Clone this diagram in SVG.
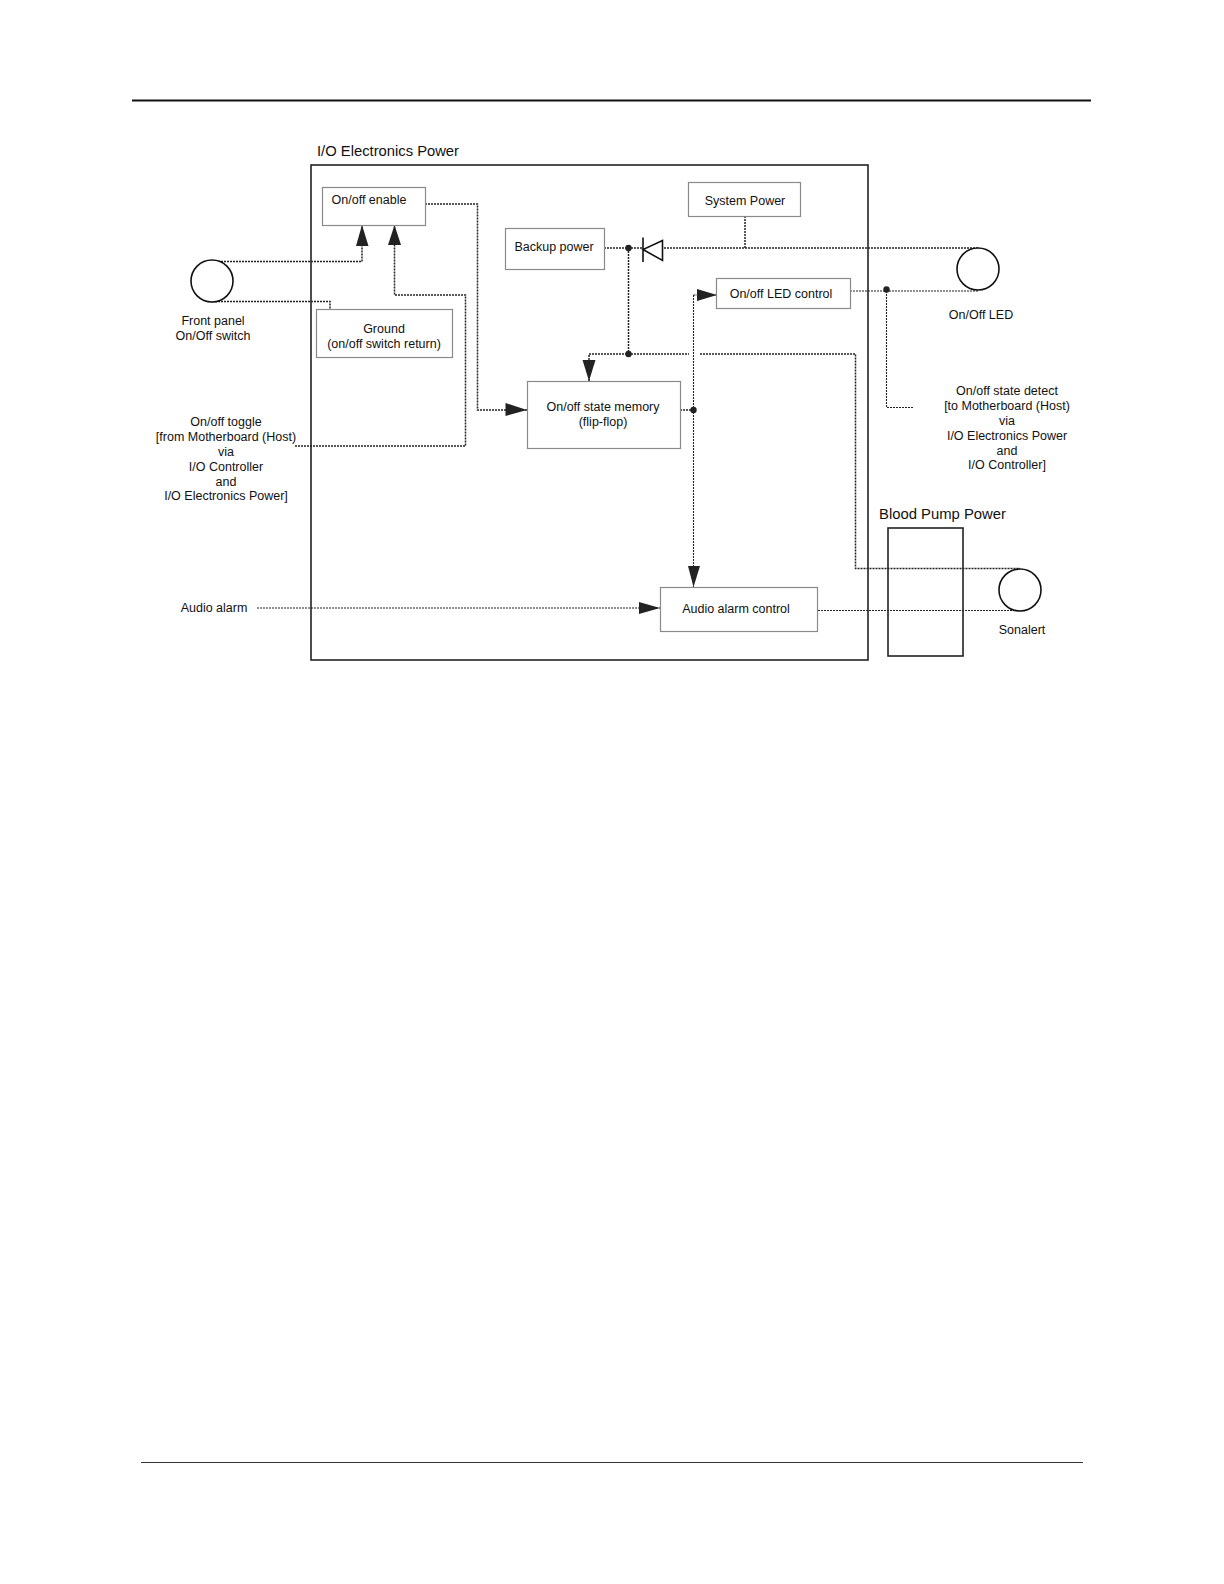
<svg xmlns="http://www.w3.org/2000/svg" width="1224" height="1584" viewBox="0 0 1224 1584">
<style>
text{font-family:"Liberation Sans",Arial,sans-serif;font-size:12.5px;fill:#111;text-anchor:middle}
.t{font-size:15.5px;text-anchor:start}
.b{fill:#fff;stroke:#8a8a8a;stroke-width:1.2}
.k{fill:none;stroke:#222;stroke-width:1.6}
.c{fill:#fff;stroke:#111;stroke-width:1.6}
.w{fill:none;stroke:#222;stroke-width:1.5;stroke-dasharray:2 1}
.n{stroke-width:1.1}
.a{fill:#222;stroke:none}
.d{fill:#222;stroke:none}
</style>
<rect width="1224" height="1584" fill="#fff"/>
<g id="page-rules">
<line x1="132" y1="100.500" x2="1091" y2="100.500" stroke="#111" stroke-width="2"/>
<line x1="141" y1="1462.500" x2="1083" y2="1462.500" stroke="#333" stroke-width="1"/>
</g>
<g id="io-electronics-power"><rect class="k" x="311" y="165" width="557" height="495"/><text class="t" x="317" y="156" textLength="142" lengthAdjust="spacingAndGlyphs">I/O Electronics Power</text></g>
<g id="blood-pump-power"><rect class="k" x="888" y="528" width="75" height="128"/><text class="t" x="879" y="519" textLength="127" lengthAdjust="spacingAndGlyphs">Blood Pump Power</text></g>
<g id="connectors">
<path class="w" d="M212 261.500H362V225"/>
<path class="w" d="M212 301.500H330V309"/>
<path class="w" d="M295 446H465.500V295H394.500V225"/>
<path class="w" d="M425 204H477.500V410H527"/>
<path class="w" d="M604 248H643"/>
<path class="w" d="M664 248H978"/>
<path class="w" d="M745 216V248"/>
<path class="w" d="M628.500 248V354"/>
<path class="w" d="M589 381V354H689"/>
<path class="w" d="M700 354H855.500V568.500H1020"/>
<path class="w" d="M680 410H693.500"/>
<path class="w n" d="M693.500 295V587"/>
<path class="w n" d="M693.500 295H716"/>
<path class="w n" d="M850 291H978"/>
<path class="w n" d="M886.500 291V407.500H913"/>
<path class="w n" d="M257 608H660"/>
<path class="w n" d="M818 610.500H1020"/>
<polygon class="a" points="362,225 356,246 368.500,246"/>
<polygon class="a" points="394.500,225 388,245 401,245"/>
<polygon class="a" points="527,410 505.500,403 505.500,416"/>
<polygon class="a" points="589,381 582.500,360 595.500,360"/>
<polygon class="a" points="717,295 697,289 697,301"/>
<polygon class="a" points="693.500,587 688,566 700,566"/>
<polygon class="a" points="660,608 639,602 639,614"/>
<circle class="d" cx="628.500" cy="248" r="3.200"/>
<circle class="d" cx="628.500" cy="354" r="3.200"/>
<circle class="d" cx="693.500" cy="410" r="3.200"/>
<circle class="d" cx="886.500" cy="289.500" r="3.200"/>
<path class="c" d="M643 237.500V262M662.500 240.500V260.500L643 249.500Z"/>
</g>
<g id="on-off-enable"><rect class="b" x="322.500" y="187.500" width="103" height="38"/><text x="369" y="204">On/off enable</text></g>
<g id="backup-power"><rect class="b" x="505.500" y="228.500" width="99" height="41"/><text x="554" y="251">Backup power</text></g>
<g id="system-power"><rect class="b" x="688.500" y="182.500" width="112" height="34"/><text x="745" y="205">System Power</text></g>
<g id="ground"><rect class="b" x="316.500" y="309.500" width="136" height="48"/><text x="384" y="333">Ground</text><text x="384" y="348">(on/off switch return)</text></g>
<g id="on-off-led-control"><rect class="b" x="716.500" y="278.500" width="134" height="30"/><text x="781" y="298">On/off LED control</text></g>
<g id="on-off-state-memory"><rect class="b" x="527.500" y="381.500" width="153" height="67"/><text x="603" y="411">On/off state memory</text><text x="603" y="426">(flip-flop)</text></g>
<g id="audio-alarm-control"><rect class="b" x="660.500" y="587.500" width="157" height="44"/><text x="736" y="613">Audio alarm control</text></g>
<g id="front-panel-switch"><circle class="c" cx="212" cy="281" r="21"/><text x="213" y="325">Front panel</text><text x="213" y="340">On/Off switch</text></g>
<g id="on-off-led"><circle class="c" cx="978" cy="269" r="21"/><text x="981" y="319">On/Off LED</text></g>
<g id="sonalert"><circle class="c" cx="1020" cy="590" r="21"/><text x="1022" y="634">Sonalert</text></g>
<g id="on-off-toggle"><text x="226" y="426">On/off toggle</text><text x="226" y="441">[from Motherboard (Host)</text><text x="226" y="456">via</text><text x="226" y="471">I/O Controller</text><text x="226" y="486">and</text><text x="226" y="500">I/O Electronics Power]</text></g>
<g id="on-off-state-detect"><text x="1007" y="395">On/off state detect</text><text x="1007" y="410">[to Motherboard (Host)</text><text x="1007" y="425">via</text><text x="1007" y="440">I/O Electronics Power</text><text x="1007" y="455">and</text><text x="1007" y="469">I/O Controller]</text></g>
<g id="audio-alarm"><text x="214" y="612">Audio alarm</text></g>
</svg>
